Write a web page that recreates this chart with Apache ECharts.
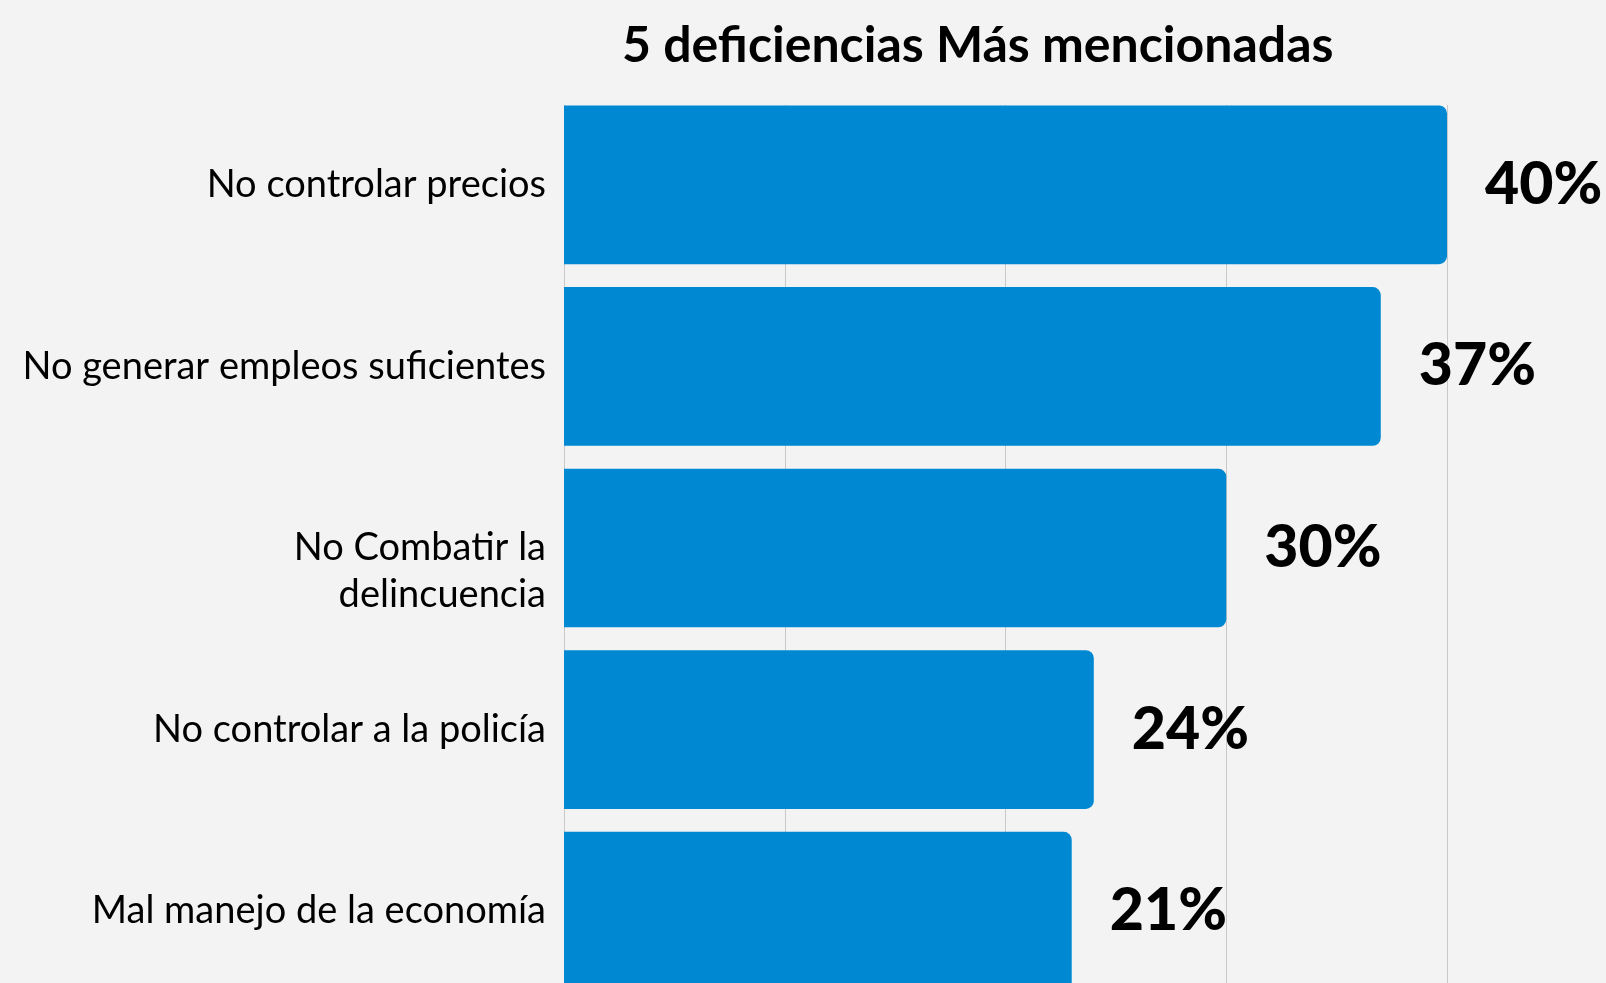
<!DOCTYPE html>
<html lang="es">
<head>
    <meta charset="utf-8">
    <title>5 deficiencias</title>
    <script src="https://cdn.jsdelivr.net/npm/echarts@6/dist/echarts.min.js"></script>
    <style>
        html, body { margin: 0; padding: 0; background: #f3f3f3; overflow: hidden; }
    </style>
</head>
<body>
    <!-- the original is cropped at the bottom, so the chart runs a little past the window -->
    <div id="main" style="width: 1606px;height:1002px;"></div>
    <script>
    // data
    var categories = ['No controlar precios', 'No generar empleos suficientes', 'No Combatir la\ndelincuencia', 'No controlar a la policía', 'Mal manejo de la economía'];
    var values = [40, 37, 30, 24, 23];          // bar lengths as drawn
    var valueLabels = ['40%', '37%', '30%', '24%', '21%'];  // printed labels

    var myChart = echarts.init(document.getElementById('main'));

    var option = {
        backgroundColor: '#f3f3f3',
        animation: false,
        title: {
            text: '5 deficiencias Más mencionadas',
            left: 617,
            top: 16,
            textStyle: {
                fontFamily: 'Lato',
                fontWeight: 'bold',
                fontSize: 50,
                color: '#000'
            }
        },
        // hide the split lines above the first bar
        graphic: [{
            type: 'rect',
            z: 1,
            shape: { x: 555, y: 90, width: 900, height: 15 },
            style: { fill: '#f3f3f3' }
        }],
        grid: {
            left: 564,
            right: 159,
            top: 94,
            bottom: 0
        },
        xAxis: {
            type: 'value',
            min: 0,
            max: 40,
            interval: 10,
            axisLabel: { show: false },
            axisLine: { show: false },
            axisTick: { show: false },
            splitLine: { lineStyle: { color: '#c9c9c9', width: 1 } }
        },
        yAxis: {
            type: 'category',
            inverse: true,
            data: categories,
            axisLine: { show: false },
            axisTick: { show: false },
            axisLabel: {
                margin: 18,
                fontFamily: 'Lato',
                fontSize: 38,
                lineHeight: 47,
                color: '#000',
                align: 'right',
                formatter: function (v) {
                    // two-line label sits lower in the original, push it down half a line
                    return v.indexOf('\n') >= 0 ? '\n' + v : v;
                }
            }
        },
        series: [
            {
                type: 'bar',
                z: 2,
                data: values,
                barCategoryGap: '12.6%',
                itemStyle: {
                    color: '#0089d2',
                    borderRadius: [0, 8, 8, 0]
                },
                label: {
                    show: true,
                    position: 'right',
                    distance: 38,
                    fontFamily: 'Lato',
                    fontWeight: 900,
                    fontSize: 59,
                    color: '#000',
                    formatter: function (p) {
                        return valueLabels[p.dataIndex];
                    }
                }
            }
        ]
    };
    myChart.setOption(option);
    </script>
</body>
</html>
